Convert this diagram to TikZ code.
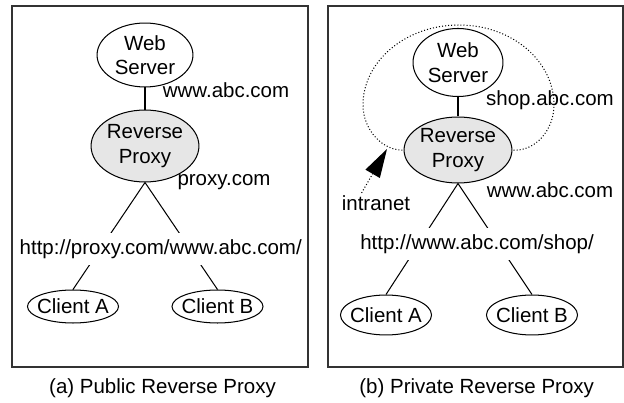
\documentclass[tikz,border=0pt]{standalone}
\usepackage{fontspec}
\setmainfont{Liberation Sans}
\usetikzlibrary{arrows.meta, shapes.geometric}
\definecolor{cproxy}{HTML}{E6E6E6}
\definecolor{cframe}{HTML}{333333}
\tikzset{
  every picture/.style={x=0.488pt, y=-0.488pt, line width=0.5pt},
  frame/.style={draw=cframe, line width=0.8pt},
  server/.style={draw, ellipse, align=center, inner sep=0pt},
  proxy/.style={draw, ellipse, fill=cproxy, align=center, inner sep=0pt},
  client/.style={draw, ellipse, inner xsep=-1.8pt, inner ysep=0pt, minimum width=44.4pt, minimum height=16.1pt},
  url/.style={fill=white, inner xsep=1pt},
  host/.style={inner sep=1pt},
  caption/.style={inner sep=1pt},
  ring/.style={densely dotted},
  intra/.style={densely dotted, -{Triangle[length=14pt, width=8pt]}},
}

\begin{document}
\begin{tikzpicture}
  \useasboundingbox (0,0) rectangle (624,403);
  % panel (a)
  \draw[frame] (12,6) rectangle (308,367);
  \node[server, minimum width=46.8pt, minimum height=31.2pt] (serverL) at (145,55) {Web\\Server};
  \node[proxy, minimum width=51.7pt, minimum height=35.1pt] (proxyL) at (145,146) {Reverse\\Proxy};
  \node[client] (clientAL) at (73,306.5) {Client A};
  \node[client] (clientBL) at (217.5,306.5) {Client B};
  \draw (serverL) -- (proxyL);
  \draw (proxyL.south) -- (clientAL.north);
  \draw (proxyL.south) -- (clientBL.north);
  \node[url] (urlL) at (160.7,249) {http://proxy.com/www.abc.com/};
  \node[host] (hostL) at (226,90.5) {www.abc.com};
  \node[host] (phostL) at (224,182) {proxy.com};
  \node[caption] (capL) at (162.5,388) {(a) Public Reverse Proxy};
  % panel (b)
  \draw[frame] (328,6) rectangle (623,367);
  \draw[ring] (459,150) ++(-53.5,0) coordinate (ringW)
    .. controls (383,152) and (363,130) .. (363,105)
    .. controls (363,61) and (406,25) .. (459,25)
    .. controls (512,25) and (554,61) .. (554,105)
    .. controls (554,130) and (535,152) .. (512.5,150);
  \node[server, minimum width=43.9pt, minimum height=33.2pt] (serverR) at (458,62.5) {Web\\Server};
  \node[proxy, minimum width=52.2pt, minimum height=32.2pt] (proxyR) at (458,150) {Reverse\\Proxy};
  \node[client, minimum height=19.5pt] (clientAR) at (386,315) {Client A};
  \node[client, minimum height=19.5pt] (clientBR) at (532,315) {Client B};
  \draw (serverR) -- (proxyR);
  \draw (proxyR.south) -- (clientAR.north);
  \draw (proxyR.south) -- (clientBR.north);
  \node[url] (urlR) at (477,244) {http://www.abc.com/shop/};
  \node[host] (hostR) at (550,100) {shop.abc.com};
  \node[host] (phostR) at (550,190) {www.abc.com};
  \node[inner sep=1pt] (intranet) at (376,203) {intranet};
  \coordinate (tip) at (387,149);
  \draw[intra] (intranet.145) -- (tip);
  \node[caption] (capR) at (476.7,388) {(b) Private Reverse Proxy};
\end{tikzpicture}
\end{document}
